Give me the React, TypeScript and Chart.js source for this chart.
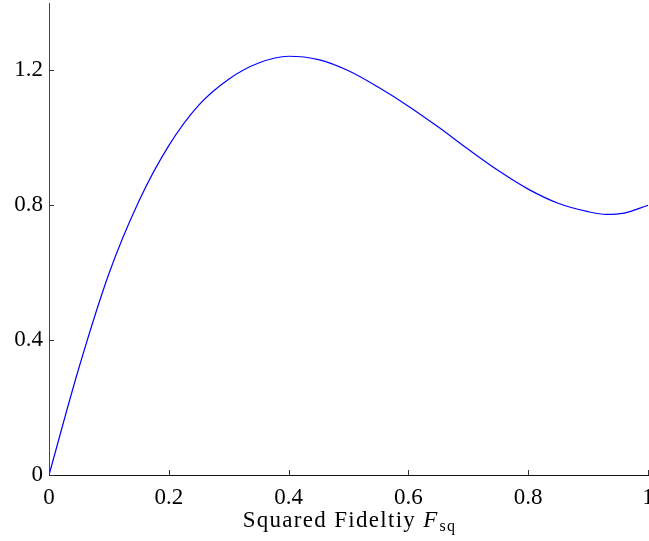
import React, { useEffect, useRef } from "react";
import { Chart, registerables } from "chart.js";

Chart.register(...registerables);

const xValues = [0, 0.05, 0.1, 0.15, 0.2, 0.25, 0.3, 0.35, 0.4, 0.45, 0.5, 0.55, 0.6, 0.65, 0.7, 0.75, 0.8, 0.85, 0.9, 0.93, 0.96, 1.0];
const yValues = [0, 0.318, 0.597, 0.812, 0.977, 1.097, 1.174, 1.222, 1.242, 1.232, 1.199, 1.150, 1.094, 1.032, 0.966, 0.903, 0.848, 0.806, 0.781, 0.773, 0.777, 0.8];
const xTickValues = [0, 0.2, 0.4, 0.6, 0.8, 1];
const yTickValues = [0, 0.4, 0.8, 1.2];
const xTitleMain = "Squared Fideltiy ";
const xTitleVar = "F";
const xTitleSub = "sq";

const FONT = "'Liberation Serif', 'DejaVu Serif', serif";

const inwardTicks = {
  id: "inwardTicks",
  afterDraw(chart: any) {
    const ctx = chart.ctx;
    const xs = chart.scales.x;
    const ys = chart.scales.y;
    const area = chart.chartArea;
    ctx.save();
    ctx.strokeStyle = "#333";
    ctx.lineWidth = 1;
    ctx.beginPath();
    xs.ticks.forEach((t: any) => {
      const px = Math.round(xs.getPixelForValue(t.value)) + 0.5;
      ctx.moveTo(px, area.bottom);
      ctx.lineTo(px, area.bottom - 5);
    });
    ys.ticks.forEach((t: any) => {
      const py = Math.round(ys.getPixelForValue(t.value)) + 0.5;
      ctx.moveTo(area.left, py);
      ctx.lineTo(area.left + 5, py);
    });
    ctx.stroke();
    // axis title with italic variable and subscript
    const cx = (area.left + area.right) / 2 + 1;
    const baseY = 527;
    ctx.fillStyle = "#000";
    ctx.textBaseline = "alphabetic";
    ctx.textAlign = "left";
    const fMain = `23px ${FONT}`;
    const fVar = `italic 23px ${FONT}`;
    const fSub = `16px ${FONT}`;
    ctx.letterSpacing = "1.3px";
    ctx.font = fMain;
    const w1 = ctx.measureText(xTitleMain).width;
    ctx.font = fVar;
    const w2 = ctx.measureText(xTitleVar).width;
    ctx.font = fSub;
    const w3 = ctx.measureText(xTitleSub).width;
    let x0 = cx - (w1 + w2 + 1 + w3) / 2;
    ctx.font = fMain;
    ctx.fillText(xTitleMain, x0, baseY);
    x0 += w1;
    ctx.font = fVar;
    ctx.fillText(xTitleVar, x0, baseY);
    x0 += w2 + 1;
    ctx.font = fSub;
    ctx.fillText(xTitleSub, x0, baseY + 4);
    ctx.restore();
  },
};

export default function App() {
  const ref = useRef<HTMLCanvasElement | null>(null);
  useEffect(() => {
    document.body.style.margin = "0";
    const canvas = ref.current;
    if (!canvas) return;
    const chart = new Chart(canvas, {
      type: "line",
      data: {
        datasets: [
          {
            data: xValues.map((x, i) => ({ x, y: yValues[i] })),
            borderColor: "#0000ff",
            borderWidth: 1.2,
            pointRadius: 0,
            cubicInterpolationMode: "monotone",
            fill: false,
          },
        ],
      },
      options: {
        animation: false,
        responsive: false,
        maintainAspectRatio: false,
        layout: { padding: { top: 3, right: 1, left: 0, bottom: 0 } },
        plugins: { legend: { display: false }, tooltip: { enabled: false } },
        scales: {
          x: {
            type: "linear",
            min: 0,
            max: 1,
            afterFit: (s: any) => {
              s.height = 66;
              s.paddingLeft = 0;
              s.paddingRight = 0;
            },
            afterBuildTicks: (s: any) => {
              s.ticks = xTickValues.map((v) => ({ value: v }));
            },
            grid: { display: true, drawOnChartArea: false, drawTicks: false },
            border: { display: true, color: "#111", width: 1 },
            ticks: {
              padding: 9,
              color: "#000",
              font: { family: FONT, size: 23 },
              maxRotation: 0,
              callback: (v: any) => String(v),
            },
          },
          y: {
            type: "linear",
            min: 0,
            max: 1.4,
            afterFit: (s: any) => {
              s.width = 49;
              s.paddingTop = 0;
              s.paddingBottom = 0;
            },
            afterBuildTicks: (s: any) => {
              s.ticks = yTickValues.map((v) => ({ value: v }));
            },
            grid: { display: true, drawOnChartArea: false, drawTicks: false },
            border: { display: true, color: "#444", width: 1 },
            ticks: {
              padding: 6,
              color: "#000",
              font: { family: FONT, size: 23 },
              callback: (v: any) => String(Math.round(v * 10) / 10),
            },
          },
        },
      },
      plugins: [inwardTicks],
    } as any);
    return () => chart.destroy();
  }, []);
  return (
    <div style={{ width: 649, height: 541 }}>
      <canvas ref={ref} width={649} height={541} style={{ display: "block" }} />
    </div>
  );
}
